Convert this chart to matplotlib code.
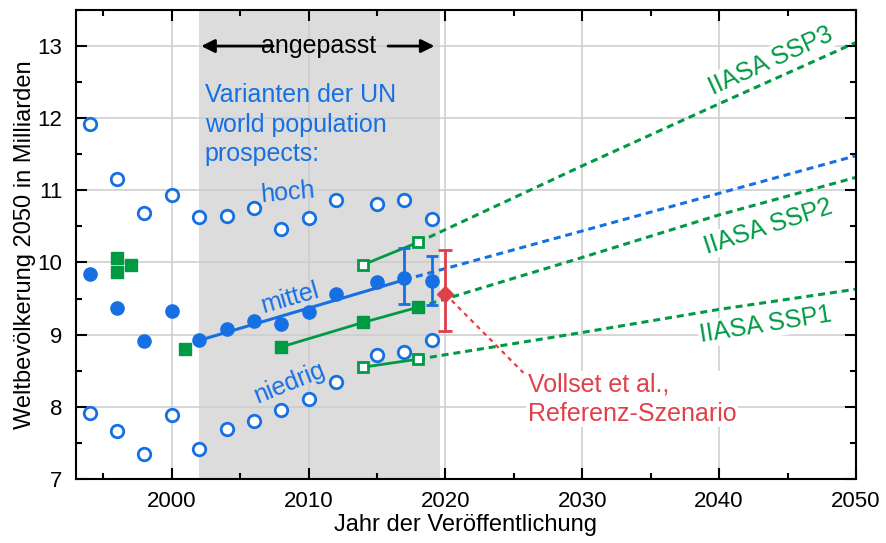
import matplotlib.pyplot as plt
from matplotlib.ticker import MultipleLocator

plt.rcParams['font.family'] = ['Liberation Sans', 'DejaVu Sans']

blue = '#1670e4'
green = '#009a44'
red = '#e0404a'
shade = '#dcdcdc'

# UN world population prospects (year of publication -> 2050 estimate)
un_years = [1994, 1996, 1998, 2000, 2002, 2004, 2006, 2008, 2010, 2012, 2015, 2017, 2019]
un_high = [11.92, 11.16, 10.68, 10.94, 10.63, 10.64, 10.76, 10.47, 10.61, 10.87, 10.81, 10.86, 10.60]
un_mid = [9.84, 9.37, 8.91, 9.33, 8.92, 9.08, 9.19, 9.15, 9.31, 9.56, 9.73, 9.78, 9.74]
un_low = [7.92, 7.67, 7.35, 7.88, 7.41, 7.69, 7.80, 7.96, 8.11, 8.34, 8.72, 8.76, 8.92]

# fitted trend of the medium variant and its extrapolation
fit_years = [2002, 2017]
fit_vals = [8.92, 9.76]
fit_proj_years = [2017, 2050]
fit_proj_vals = [9.76, 11.48]

# uncertainty ranges of the last two UN medium estimates
err_years = [2017, 2019]
err_mid = [9.78, 9.74]
err_low = [9.42, 9.41]
err_high = [10.20, 10.09]

# IIASA estimates
iiasa_years = [1996, 1996, 1997, 2001, 2008, 2014, 2018]
iiasa_vals = [10.06, 9.875, 9.97, 8.80, 8.83, 9.17, 9.38]
ssp2_years = [2008, 2014, 2018]
ssp2_vals = [8.83, 9.17, 9.38]
ssp3_years = [2014, 2018]
ssp3_vals = [9.97, 10.28]
ssp1_years = [2014, 2018]
ssp1_vals = [8.55, 8.66]

proj_years = [2018, 2030, 2040, 2050]
ssp3_proj = [10.28, 11.34, 12.20, 13.05]
ssp2_proj = [9.38, 10.07, 10.66, 11.18]
ssp1_proj = [8.66, 9.03, 9.35, 9.63]

# Vollset et al. reference scenario
vollset_year = 2020
vollset_val = 9.56
vollset_low = 9.05
vollset_high = 10.17

fig = plt.figure(figsize=(8.87, 5.43), dpi=100)
ax = fig.add_axes([0.0857, 0.118, 0.8793, 0.8636])

ax.axvspan(2002, 2019.6, color=shade, zorder=0, lw=0)
ax.grid(True, color='#cccccc', lw=1.1, zorder=0.5)
ax.set_axisbelow(True)

dash = (0, (2.3, 1.6))
ax.plot(fit_proj_years, fit_proj_vals, color=blue, lw=2.2, ls=dash, zorder=2)
ax.plot(proj_years, ssp3_proj, color=green, lw=2.2, ls=dash, zorder=2)
ax.plot(proj_years, ssp2_proj, color=green, lw=2.2, ls=dash, zorder=2)
ax.plot(proj_years, ssp1_proj, color=green, lw=2.2, ls=dash, zorder=2)

ax.plot(fit_years, fit_vals, color=blue, lw=2.2, zorder=2)
ax.plot(ssp2_years, ssp2_vals, color=green, lw=2, zorder=2)
ax.plot(ssp3_years, ssp3_vals, color=green, lw=2, zorder=2)
ax.plot(ssp1_years, ssp1_vals, color=green, lw=2, zorder=2)

ax.errorbar(err_years, err_mid,
            yerr=[[m - l for m, l in zip(err_mid, err_low)],
                  [h - m for m, h in zip(err_mid, err_high)]],
            fmt='none', ecolor=blue, elinewidth=2, capsize=4.5, capthick=2, zorder=2.5)
ax.errorbar([vollset_year], [vollset_val],
            yerr=[[vollset_val - vollset_low], [vollset_high - vollset_val]],
            fmt='none', ecolor=red, elinewidth=2, capsize=5, capthick=2, zorder=2.5)

ax.plot(un_years, un_high, 'o', ms=9, mfc='white', mec=blue, mew=2, ls='none', zorder=3)
ax.plot(un_years, un_low, 'o', ms=9, mfc='white', mec=blue, mew=2, ls='none', zorder=3)
ax.plot(un_years, un_mid, 'o', ms=9.5, color=blue, ls='none', zorder=3)
ax.plot(iiasa_years, iiasa_vals, 's', ms=9, color=green, ls='none', zorder=3)
ax.plot(ssp3_years + ssp1_years, ssp3_vals + ssp1_vals, 's', ms=7.5,
        mfc='white', mec=green, mew=2, ls='none', zorder=3)
ax.plot([vollset_year], [vollset_val], 'D', ms=8, color=red, zorder=4)

# pointer from the Vollset estimate to its label
ax.plot([vollset_year, 2025.7], [vollset_val, 8.47], color=red, lw=1.6,
        ls=(0, (2, 2)), zorder=2)

ax.set_xlim(1993, 2050)
ax.set_ylim(7, 13.5)
ax.xaxis.set_major_locator(MultipleLocator(10))
ax.xaxis.set_minor_locator(MultipleLocator(5))
ax.yaxis.set_major_locator(MultipleLocator(1))
ax.yaxis.set_minor_locator(MultipleLocator(0.5))
ax.tick_params(which='both', direction='in', top=True, right=True, width=1.5,
               labelsize=16)
ax.tick_params(which='major', length=8)
ax.tick_params(which='minor', length=4.5)
ax.tick_params(axis='x', pad=9)
ax.tick_params(axis='y', pad=10)
for sp in ax.spines.values():
    sp.set_linewidth(1.5)

ax.set_xlabel('Jahr der Veröffentlichung', fontsize=17, labelpad=1)
ax.set_ylabel('Weltbevölkerung 2050 in Milliarden', fontsize=17, labelpad=1)

# annotations
ax.text(2010.7, 13.0, 'angepasst', fontsize=18, ha='center', va='center', zorder=5)
arrow = dict(arrowstyle='-|>', color='black', lw=2, mutation_scale=20)
ax.annotate('', xy=(2001.95, 13.0), xytext=(2007.6, 13.0), arrowprops=arrow)
ax.annotate('', xy=(2019.4, 13.0), xytext=(2015.6, 13.0), arrowprops=arrow)

ax.text(2002.4, 12.49, 'Varianten der UN\nworld population\nprospects:', color=blue,
        fontsize=18, ha='left', va='top', linespacing=1.3, zorder=5)
ax.text(2008.5, 10.97, 'hoch', color=blue, fontsize=18, ha='center', va='center',
        rotation=5, zorder=5)
ax.text(2008.65, 9.51, 'mittel', color=blue, fontsize=18, ha='center', va='center',
        rotation=16, zorder=5)
ax.text(2008.6, 8.33, 'niedrig', color=blue, fontsize=18, ha='center', va='center',
        rotation=22, zorder=5)

box = dict(facecolor='white', edgecolor='none', pad=1)
ax.text(2043.8, 12.8, 'IIASA SSP3', color=green, fontsize=18, ha='center',
        va='center', rotation=24.5, bbox=box, zorder=5)
ax.text(2043.6, 10.49, 'IIASA SSP2', color=green, fontsize=18, ha='center',
        va='center', rotation=18, bbox=box, zorder=5)
ax.text(2043.4, 9.14, 'IIASA SSP1', color=green, fontsize=18, ha='center',
        va='center', rotation=9, bbox=box, zorder=5)
ax.text(2026.0, 8.47, 'Vollset et al.,\nReferenz-Szenario', color=red, fontsize=18,
        ha='left', va='top', linespacing=1.25, bbox=box, zorder=5)

fig.savefig('out.png', dpi=100)
